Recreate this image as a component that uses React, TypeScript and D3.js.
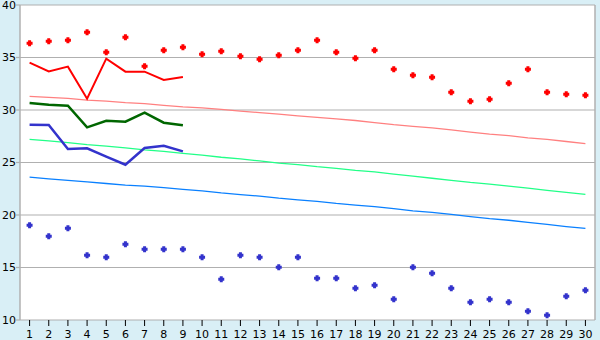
import React from "react";
import * as d3 from "d3";

const days = d3.range(1, 31).map(String);
const yTicks = [10, 15, 20, 25, 30, 35, 40];

const redPoints = [36.35, 36.54, 36.64, 37.4, 35.5, 36.92, 34.16, 35.69, 35.97, 35.3, 35.59, 35.11, 34.83, 35.21, 35.69, 36.64, 35.5, 34.92, 35.69, 33.87, 33.3, 33.11, 31.68, 30.83, 31.02, 32.54, 33.87, 31.68, 31.5, 31.4];
const bluePoints = [19.02, 17.97, 18.73, 16.16, 15.97, 17.21, 16.73, 16.73, 16.73, 15.97, 13.88, 16.16, 15.97, 15.02, 15.97, 13.97, 13.97, 13.02, 13.3, 11.97, 15.02, 14.45, 13.02, 11.69, 11.97, 11.69, 10.83, 10.45, 12.26, 12.83];

const redLine = [34.51, 33.68, 34.13, 31.08, 34.89, 33.65, 33.65, 32.86, 33.14];
const greenLine = [30.67, 30.5, 30.41, 28.35, 28.98, 28.89, 29.74, 28.79, 28.54];
const blueLine = [28.6, 28.58, 26.29, 26.35, 25.56, 24.79, 26.38, 26.6, 26.06];

const pinkTrend = [31.3, 31.2, 31.1, 30.95, 30.85, 30.7, 30.6, 30.45, 30.3, 30.2, 30.05, 29.9, 29.75, 29.6, 29.45, 29.3, 29.15, 29.0, 28.8, 28.6, 28.45, 28.3, 28.1, 27.9, 27.7, 27.55, 27.35, 27.2, 27.0, 26.8];
const greenTrend = [27.2, 27.05, 26.9, 26.7, 26.55, 26.4, 26.2, 26.05, 25.87, 25.7, 25.5, 25.35, 25.15, 24.95, 24.8, 24.6, 24.45, 24.25, 24.1, 23.9, 23.7, 23.5, 23.3, 23.1, 22.95, 22.75, 22.55, 22.35, 22.15, 21.97];
const blueTrend = [23.6, 23.45, 23.3, 23.15, 23.0, 22.85, 22.75, 22.6, 22.45, 22.3, 22.1, 21.95, 21.8, 21.6, 21.45, 21.3, 21.1, 20.95, 20.8, 20.6, 20.4, 20.25, 20.05, 19.85, 19.65, 19.5, 19.3, 19.1, 18.9, 18.73];

const W = 600, H = 340;
const L = 20, R = 595, T = 5, B = 320;

// plus-shaped marker with a thick centre
const fatCross: d3.SymbolType = {
  draw(ctx, _size) {
    const a = 1.5, r = 3;
    ctx.moveTo(-a, -r);
    ctx.lineTo(a, -r);
    ctx.lineTo(a, -a);
    ctx.lineTo(r, -a);
    ctx.lineTo(r, a);
    ctx.lineTo(a, a);
    ctx.lineTo(a, r);
    ctx.lineTo(-a, r);
    ctx.lineTo(-a, a);
    ctx.lineTo(-r, a);
    ctx.lineTo(-r, -a);
    ctx.lineTo(-a, -a);
    ctx.closePath();
  },
};

export default function App() {
  const x = d3.scaleBand<string>().domain(days).range([L, R]);
  const y = d3.scaleLinear().domain([10, 40]).range([B, T]);
  const cx = (i: number) => (x(days[i]) as number) + x.bandwidth() / 2;
  const line = d3.line<number>().x((_, i) => cx(i)).y((v) => y(v));
  const marker = d3.symbol().type(fatCross)() as string;
  const font = "'DejaVu Sans', Verdana, sans-serif";

  return (
    <svg width={W} height={H} style={{ position: "absolute", left: 0, top: 0 }}>
      <rect x={0} y={0} width={W} height={H} fill="#d9eff6" />
      <rect x={L} y={T} width={R - L} height={B - T} fill="#ffffff" />
      {yTicks.map((t) => (
        <g key={t}>
          <line x1={L} x2={R} y1={y(t)} y2={y(t)} stroke="#b0b0b0" strokeWidth={1.2} />
          <line x1={L - 4} x2={L} y1={y(t)} y2={y(t)} stroke="#b0b0b0" strokeWidth={1.2} />
          <text x={L - 4} y={y(t)} dy="0.35em" textAnchor="end" fontFamily={font} fontSize={11} fill="#000">{t}</text>
        </g>
      ))}
      <line x1={L} x2={L} y1={T} y2={B} stroke="#b0b0b0" strokeWidth={1.5} />
      <line x1={R} x2={R} y1={T} y2={B} stroke="#b0b0b0" strokeWidth={1.5} />
      {days.map((d, i) => (
        <g key={d}>
          <line x1={cx(i)} x2={cx(i)} y1={B} y2={B + 6} stroke="#000" strokeWidth={1} />
          <text x={cx(i)} y={B + 18} textAnchor="middle" fontFamily={font} fontSize={11} fill="#000">{d}</text>
        </g>
      ))}
      <path d={line(pinkTrend) as string} fill="none" stroke="#ff8080" strokeWidth={1.3} />
      <path d={line(greenTrend) as string} fill="none" stroke="#22ff88" strokeWidth={1.3} />
      <path d={line(blueTrend) as string} fill="none" stroke="#0a80ff" strokeWidth={1.3} />
      <path d={line(redLine) as string} fill="none" stroke="#ff0000" strokeWidth={2} />
      <path d={line(greenLine) as string} fill="none" stroke="#006600" strokeWidth={2.5} />
      <path d={line(blueLine) as string} fill="none" stroke="#3333cc" strokeWidth={2.5} />
      {redPoints.map((v, i) => (
        <path key={"r" + i} d={marker} transform={`translate(${cx(i)},${y(v)})`} fill="#ff0000" />
      ))}
      {bluePoints.map((v, i) => (
        <path key={"b" + i} d={marker} transform={`translate(${cx(i)},${y(v)})`} fill="#3333cc" />
      ))}
    </svg>
  );
}
